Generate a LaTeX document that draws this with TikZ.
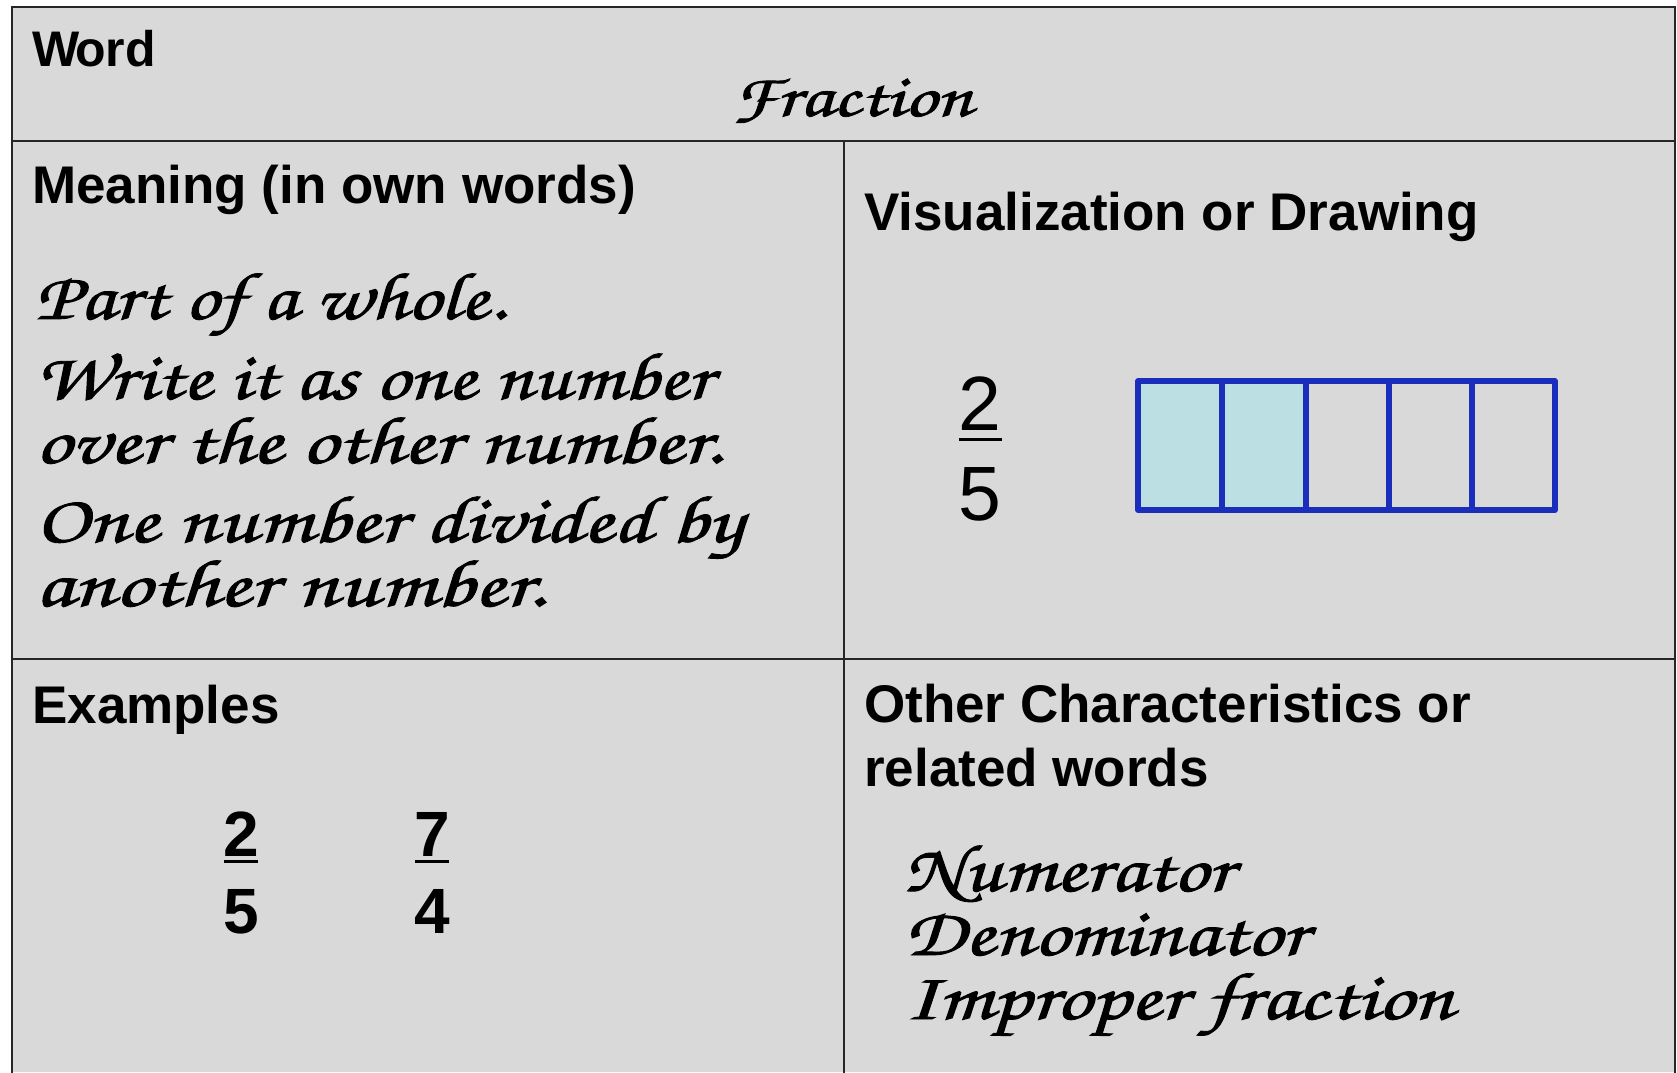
\documentclass[tikz,border=0pt]{standalone}
\usepackage{fontspec}
\setmainfont{Liberation Sans}
\newfontfamily\hand[FakeBold=1.3]{TeX Gyre Chorus}
\definecolor{bggray}{HTML}{D9D9D9}
\definecolor{gridblue}{HTML}{1A2DBB}
\definecolor{cellfill}{HTML}{BCDFE3}
\tikzset{
  head/.style={anchor=base west, inner sep=0pt, font=\bfseries\fontsize{53}{60}\selectfont},
  script/.style={anchor=base west, inner sep=0pt, font=\hand\fontsize{67}{70}\selectfont},
  bignum/.style={anchor=base, inner sep=0pt, font=\bfseries\fontsize{64}{70}\selectfont},
  visnum/.style={anchor=base, inner sep=0pt, font=\fontsize{77}{80}\selectfont},
  rule/.style={line width=2.5pt, black!85},
}
\newcommand\sx[2]{\scalebox{#1}[1]{#2}}
\begin{document}
\begin{tikzpicture}[x=1pt,y=-1pt]
\useasboundingbox (0,0) rectangle (1677,1072);
\fill[white] (0,0) rectangle (1677,1072);
% table background
\fill[bggray] (12,7) rectangle (1675,1072);
% table rules
\draw[rule] (12,1074) -- (12,7) -- (1675,7) -- (1675,1074);
\draw[rule] (12,141) -- (1675,141);
\draw[rule] (12,659) -- (1675,659);
\draw[rule] (844,141) -- (844,1074);
% Word row
\node[head, font=\bfseries\fontsize{50}{60}\selectfont] (word) at (32,66) {W\kern-4pt ord};
\node[script, anchor=base, font=\hand\fontsize{60}{64}\selectfont] (fraction) at (852,116) {\sx{1.32}{Fraction}};
% Meaning
\node[head] (meaning) at (32,203) {Meaning (in own words)};
\node[script] (m1) at (35,319) {\sx{1.23}{Part of a whole.}};
\node[script] (m2) at (35,399) {\sx{1.25}{Write it as one number}};
\node[script] (m3) at (35,463) {\sx{1.32}{over the other number.}};
\node[script] (m4) at (35,542) {\sx{1.31}{One number divided by}};
\node[script] (m5) at (35,606) {\sx{1.35}{another number.}};
% Visualization
\node[head] (vis) at (864,230) {Visualization or Drawing};
\node[visnum] (vnum) at (980,430) {2};
\node[visnum] (vden) at (980,520) {5};
\fill (959,437.5) rectangle (1002,441);
\fill[cellfill] (1138,381) rectangle (1306,510);
\draw[gridblue, line width=5.5pt, line join=round] (1138,381) rectangle (1555,510);
\foreach \xx in {1222,1306,1389,1472}
  \draw[gridblue, line width=5.5pt] (\xx,381) -- (\xx,510);
% Examples
\node[head] (examples) at (32,723) {Examples};
\node[bignum] (e1n) at (241,856) {2};
\fill (224,859.5) rectangle (258,863);
\node[bignum] (e1d) at (241,933) {5};
\node[bignum] (e2n) at (432,856) {7};
\fill (415,859.5) rectangle (449,863);
\node[bignum] (e2d) at (432,933) {4};
% Other characteristics
\node[head] (other1) at (864,722) {Other Characteristics or};
\node[head] (other2) at (864,786) {related words};
\node[script] (o1) at (904,891) {\sx{1.27}{Numerator}};
\node[script] (o2) at (904,955) {\sx{1.29}{Denominator}};
\node[script] (o3) at (904,1019) {\sx{1.32}{Improper fraction}};
\end{tikzpicture}
\end{document}
